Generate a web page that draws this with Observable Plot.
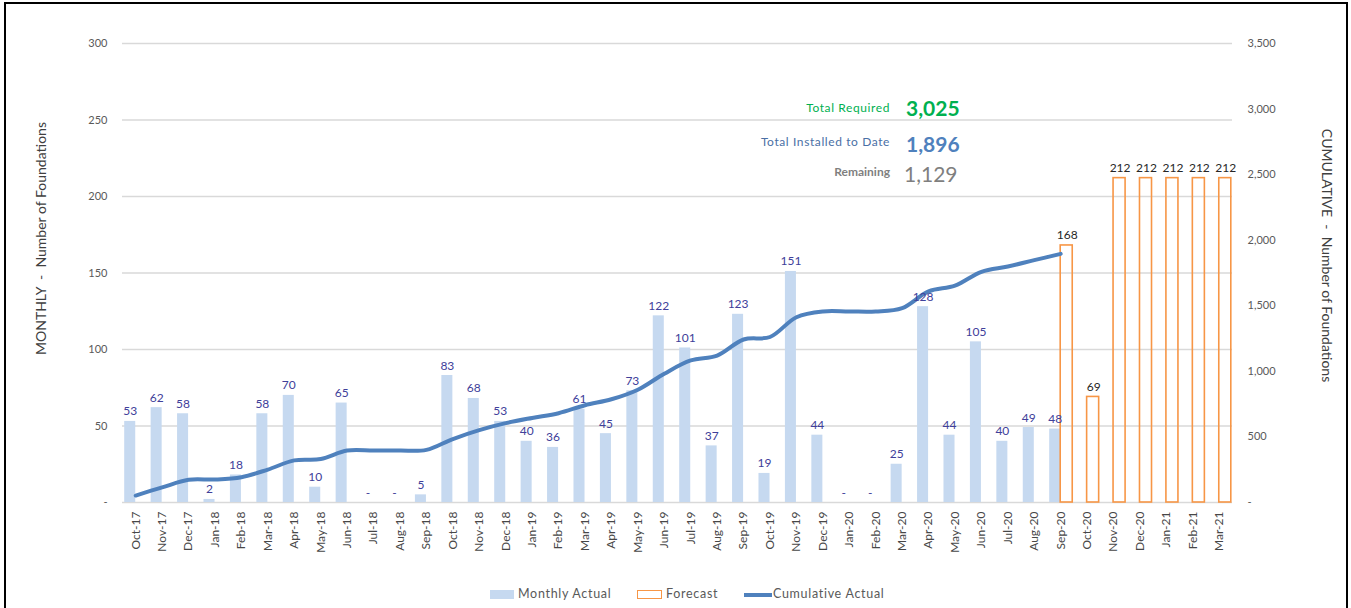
<!DOCTYPE html>
<html>
<head>
<meta charset="utf-8">
<script src="https://cdn.jsdelivr.net/npm/d3@7"></script>
<script src="https://cdn.jsdelivr.net/npm/@observablehq/plot@0.6"></script>
<style>
  body { margin: 0; background: #fff; font-family: Lato, "Open Sans", sans-serif; }
  #wrap { position: relative; width: 1351px; height: 608px; overflow: hidden; background: #fff; }
  #frame { position: absolute; left: 4px; top: 2px; width: 1344px; height: 640px; border: 2px solid #000; box-sizing: border-box; pointer-events: none; }
  #chart { position: absolute; left: 0; top: 0; }
  .ytitle { position: absolute; font-size: 14px; color: #404040; white-space: nowrap; }
  .ann { position: absolute; white-space: nowrap; line-height: 1; }
  .lab { font-size: 12px; letter-spacing: 0.6px; text-align: right; }
  .val { font-size: 21px; font-weight: bold; }
  .leg { position: absolute; font-size: 12.5px; color: #595959; letter-spacing: 0.7px; white-space: nowrap; line-height: 1; }
</style>
</head>
<body>
<div id="wrap">
  <div id="chart"></div>
  <div class="ytitle" id="lt">MONTHLY&nbsp; -&nbsp; Number of Foundations</div>
  <div class="ytitle" id="rt">CUMULATIVE&nbsp; -&nbsp; Number of Foundations</div>

  <div class="ann lab" style="right:461px; top:102px; color:#00b050;">Total Required</div>
  <div class="ann val" style="left:906px; top:97px; color:#00b050;">3,025</div>
  <div class="ann lab" style="right:461px; top:136px; color:#4a6fa5;">Total Installed to Date</div>
  <div class="ann val" style="left:906px; top:133px; color:#4f81bd;">1,896</div>
  <div class="ann lab" style="right:461px; top:166px; color:#7f7f7f; font-weight:bold; letter-spacing:0;">Remaining</div>
  <div class="ann val" style="left:904px; top:163px; color:#7f7f7f; font-weight:normal;">1,129</div>

  <div style="position:absolute; left:490px; top:590px; width:24px; height:9px; background:#c6d9f0;"></div>
  <div class="leg" style="left:518px; top:588px;">Monthly Actual</div>
  <div style="position:absolute; left:637px; top:590px; width:25px; height:9px; border:1.5px solid #f79646; box-sizing:border-box;"></div>
  <div class="leg" style="left:666px; top:588px;">Forecast</div>
  <div style="position:absolute; left:744px; top:593px; width:28px; height:4px; background:#4f81bd;"></div>
  <div class="leg" style="left:773px; top:588px;">Cumulative Actual</div>

  <div id="frame"></div>
</div>
<script>
// ---- Data ----
const months = ["Oct-17","Nov-17","Dec-17","Jan-18","Feb-18","Mar-18","Apr-18","May-18","Jun-18","Jul-18","Aug-18","Sep-18",
  "Oct-18","Nov-18","Dec-18","Jan-19","Feb-19","Mar-19","Apr-19","May-19","Jun-19","Jul-19","Aug-19","Sep-19",
  "Oct-19","Nov-19","Dec-19","Jan-20","Feb-20","Mar-20","Apr-20","May-20","Jun-20","Jul-20","Aug-20","Sep-20",
  "Oct-20","Nov-20","Dec-20","Jan-21","Feb-21","Mar-21"];
const monthlyActual = [53,62,58,2,18,58,70,10,65,0,0,5,83,68,53,40,36,61,45,73,122,101,37,123,19,151,44,0,0,25,128,44,105,40,49,48];
const cumulativeActual = [53,115,173,175,193,251,321,331,396,396,396,401,484,552,605,645,681,742,787,860,982,1083,1120,1243,1262,1413,1457,1457,1457,1482,1610,1654,1759,1799,1848,1896];
const forecastMonths = ["Sep-20","Oct-20","Nov-20","Dec-20","Jan-21","Feb-21","Mar-21"];
const forecastValues = [168,69,212,212,212,212,212];
const leftTicks = [0,50,100,150,200,250,300];
const rightTicks = [0,500,1000,1500,2000,2500,3000,3500];

// ---- Tables ----
const actual = monthlyActual.map((v, i) => ({month: months[i], value: v}));
const cum = cumulativeActual.map((v, i) => ({month: months[i], value: v}));
const fc = forecastValues.map((v, i) => ({month: forecastMonths[i], value: v}));

const leftMax = 300, rightMax = 3500;
const k = leftMax / rightMax; // map right axis into left-axis units
const fmt = v => v === 0 ? "-" : d3.format(",")(v);

const chart = Plot.plot({
  width: 1351,
  height: 575,
  marginLeft: 122,
  marginRight: 119,
  marginTop: 43,
  marginBottom: 73,
  style: {fontFamily: "Lato, 'Open Sans', sans-serif", fontSize: "11px", color: "#595959", background: "transparent"},
  x: {type: "band", domain: months, padding: 0, round: false, label: null},
  y: {domain: [0, leftMax], label: null},
  marks: [
    Plot.gridY(leftTicks, {stroke: "#d9d9d9", strokeOpacity: 1, strokeWidth: 1.4}),
    Plot.axisY(leftTicks, {anchor: "left", tickSize: 0, tickPadding: 15, tickFormat: fmt, label: null, fill: "#595959"}),
    Plot.axisY(rightTicks.map(v => v * k), {anchor: "right", tickSize: 0, tickPadding: 15, tickFormat: d => fmt(Math.round(d / k)), label: null, fill: "#595959"}),
    Plot.axisX({tickRotate: -90, tickSize: 0, tickPadding: 9, label: null, fill: "#474747", fontSize: 12}),
    Plot.barY(actual, {x: "month", y: "value", fill: "#c6d9f0", insetLeft: 2.2, insetRight: 13.2}),
    Plot.barY(fc, {x: "month", y: "value", fill: "none", stroke: "#f79646", strokeWidth: 1.6, insetLeft: 13.2, insetRight: 1.2}),
    Plot.line(cum, {x: "month", y: d => d.value * k, stroke: "#4f81bd", strokeWidth: 4, curve: "catmull-rom", strokeLinecap: "round"}),
    Plot.text(actual, {x: "month", y: "value", text: d => fmt(d.value), dx: -5.5, dy: -6, lineAnchor: "bottom", fill: "#40409a", fontSize: 12}),
    Plot.text(fc, {x: "month", y: "value", text: d => fmt(d.value), dx: 6.5, dy: -6, lineAnchor: "bottom", fill: "#262626", fontSize: 12})
  ]
});
document.getElementById("chart").appendChild(chart);

// axis titles
const lt = document.getElementById("lt");
lt.style.left = (40 - lt.offsetWidth / 2) + "px";
lt.style.top = (238 - lt.offsetHeight / 2) + "px";
lt.style.transform = "rotate(-90deg)";
const rt = document.getElementById("rt");
rt.style.left = (1327 - rt.offsetWidth / 2) + "px";
rt.style.top = (255 - rt.offsetHeight / 2) + "px";
rt.style.transform = "rotate(90deg)";
</script>
</body>
</html>
